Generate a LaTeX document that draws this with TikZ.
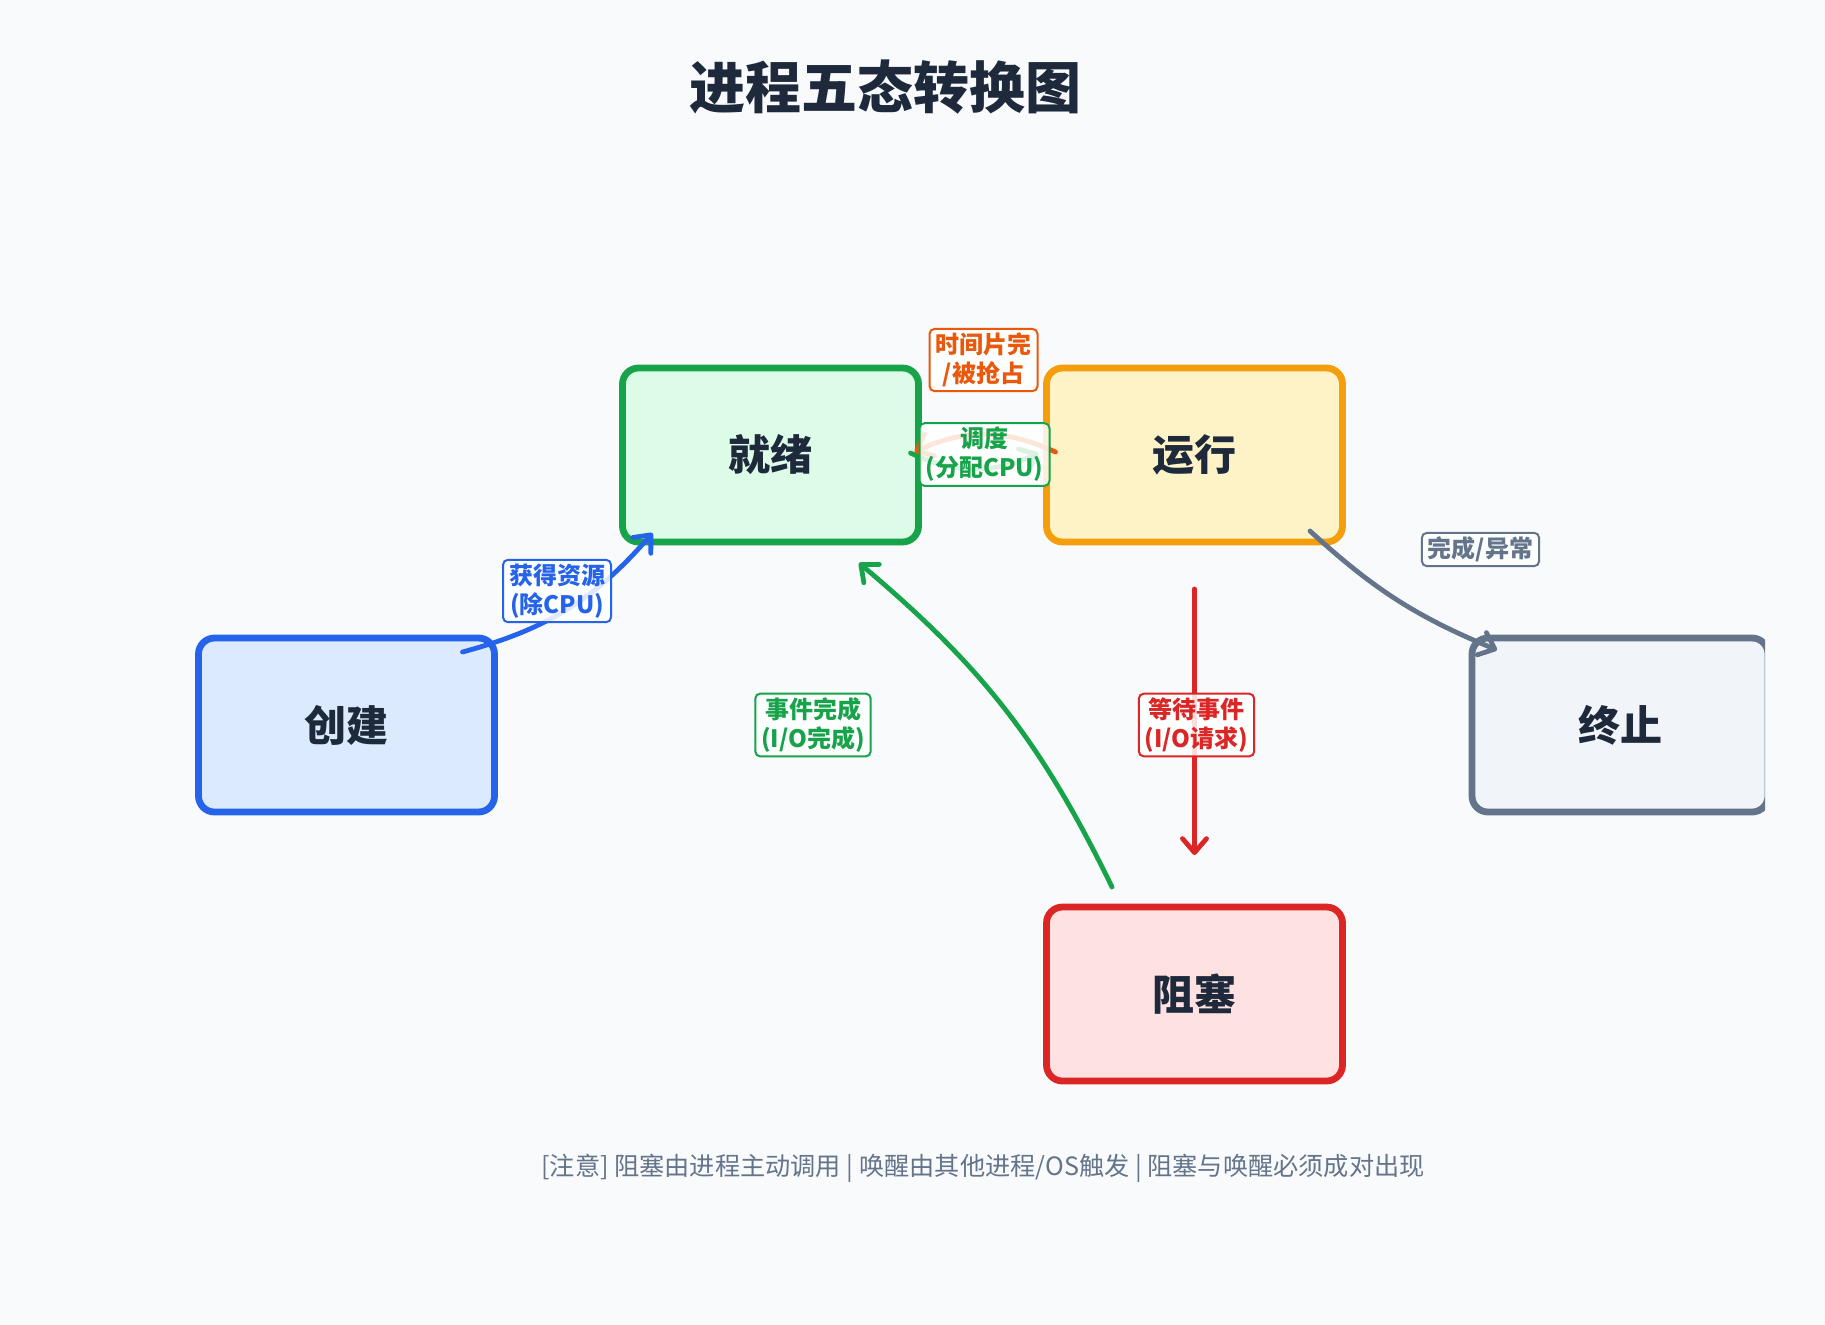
\documentclass[tikz,border=0pt]{standalone}
\usepackage{fontspec}
\setmainfont{Noto Sans CJK SC}
\usetikzlibrary{arrows.meta,positioning}
\definecolor{bgcol}{HTML}{F8FAFC}
\definecolor{ink}{HTML}{1E293B}
\definecolor{bc}{HTML}{2563EB}
\definecolor{bfill}{HTML}{DBEAFE}
\definecolor{gc}{HTML}{16A34A}
\definecolor{gfill}{HTML}{DCFCE7}
\definecolor{oc}{HTML}{F59E0B}
\definecolor{ofill}{HTML}{FEF3C7}
\definecolor{ored}{HTML}{EA580C}
\definecolor{rc}{HTML}{DC2626}
\definecolor{rfill}{HTML}{FEE2E2}
\definecolor{sc}{HTML}{64748B}
\definecolor{sfill}{HTML}{F1F5F9}
\tikzset{
  state/.style={draw, line width=3.4pt, rounded corners=8pt, minimum width=148pt,
                minimum height=87pt, outer sep=0pt, inner sep=0pt, text=ink,
                font=\bfseries\fontsize{21}{25}\selectfont},
  flow/.style={-{Straight Barb[length=7pt,width=12pt,round]}, line width=2.4pt, line cap=round},
  tag/.style={draw, line width=1pt, rounded corners=2.5pt, fill=white, fill opacity=0.85,
              draw opacity=1, text opacity=1, align=center, inner xsep=3pt, inner ysep=2pt,
              font=\bfseries\fontsize{12}{14.5}\selectfont}
}
\begin{document}
\begin{tikzpicture}[x=0.5pt,y=-0.5pt]
  \fill[bgcol] (0,0) rectangle (1825,1324);
  \node[font=\bfseries\fontsize{28}{32}\selectfont,text=ink] (title) at (885,87) {进程五态转换图};
  \begin{scope}
    \clip (0,0) rectangle (1765,1324);
    \node[state,draw=gc,fill=gfill] (ready) at (770.5,455) {就绪};
    \node[state,draw=oc,fill=ofill,right=64pt of ready] (run) {运行};
    \node[state,draw=bc,fill=bfill,below left=48pt and 64pt of ready] (create) {创建};
    \node[state,draw=rc,fill=rfill,below=182.5pt of run] (block) {阻塞};
    \node[state,draw=sc,fill=sfill,below right=48pt and 64.75pt of run] (term) {终止};
  \end{scope}
  % transitions
  \draw[flow,bc] ([shift={(-32,14)}]create.north east) to[bend right=17] ([shift={(30,-9)}]ready.south west);
  \draw[flow,gc] ([shift={(-8,-2)}]ready.east) to[bend right=25] ([shift={(-8,-2)}]run.west);
  \draw[flow,ored] ([shift={(9,-3)}]run.west) to[bend right=25] ([shift={(-4,-3)}]ready.east);
  \draw[flow,rc] ([shift={(0,47)}]run.south) -- ([shift={(0,-52)}]block.north);
  \draw[flow,gc] ([shift={(65.5,-20)}]block.north west) to[bend right=12] ([shift={(-59.5,21)}]ready.south east);
  \draw[flow,sc] ([shift={(-32.5,-11)}]run.south east) to[bend right=10] ([shift={(25,12)}]term.north west);
  % labels
  \node[tag,draw=bc,text=bc] (getres) at (557,591) {获得资源\\(除CPU)};
  \node[tag,draw=ored,text=ored] (slice) at (983.5,360) {时间片完\\/被抢占};
  \node[tag,draw=gc,text=gc] (sched) at (984.5,454.5) {调度\\(分配CPU)};
  \node[tag,draw=sc,text=sc] (done) at (1480.5,549.5) {完成/异常};
  \node[tag,draw=gc,text=gc] (evdone) at (813,725) {事件完成\\(I/O完成)};
  \node[tag,draw=rc,text=rc] (wait) at (1196.5,725) {等待事件\\(I/O请求)};
  \node[text=sc,font=\fontsize{12.6}{15}\selectfont] (note) at (983,1168) {[注意] 阻塞由进程主动调用 | 唤醒由其他进程/OS触发 | 阻塞与唤醒必须成对出现};
\end{tikzpicture}
\end{document}
